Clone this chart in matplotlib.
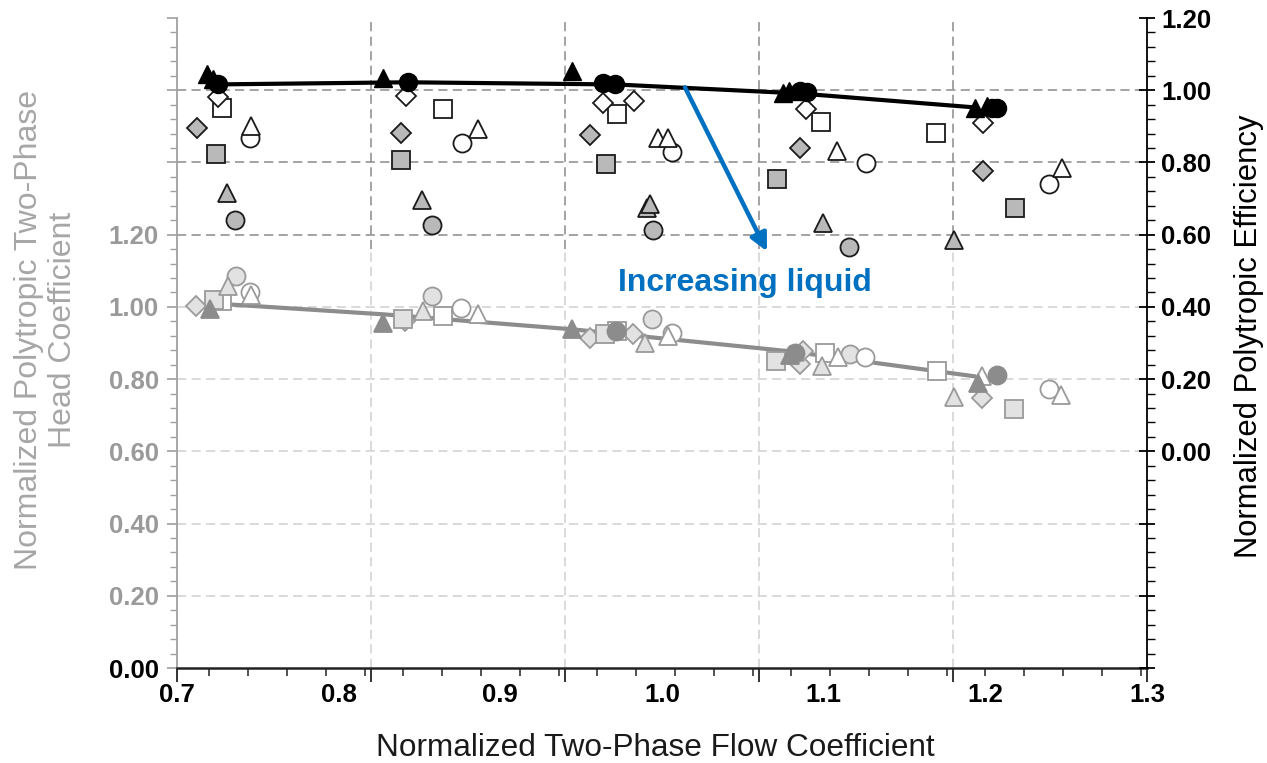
import matplotlib
matplotlib.use('Agg')
import matplotlib.pyplot as plt
from matplotlib.ticker import FixedLocator, MultipleLocator, FuncFormatter
import numpy as np

plt.rcParams['font.family'] = ['Liberation Sans', 'DejaVu Sans']

# ---------------- data ----------------
x_tick_labels = [0.7, 0.8, 0.9, 1.0, 1.1, 1.2, 1.3]
x_grid_ticks = [0.7, 0.82, 0.94, 1.06, 1.18, 1.3]
head_labels = [0.0, 0.2, 0.4, 0.6, 0.8, 1.0, 1.2]
eff_labels = [0.0, 0.2, 0.4, 0.6, 0.8, 1.0, 1.2]

# efficiency (right axis)
eff_line_x = [0.7223, 0.8429, 0.9715, 1.0853, 1.1947]
eff_line_y = [1.016, 1.022, 1.016, 0.991, 0.952]
eff_dry_tri_x = [0.7186, 0.7223, 0.8274, 0.9443, 1.0748, 1.0785, 1.1935, 1.2009]
eff_dry_tri_y = [1.044, 1.030, 1.033, 1.052, 0.991, 0.999, 0.950, 0.955]
eff_dry_circ_x = [0.7254, 0.8429, 0.9635, 0.9709, 1.0853, 1.0896, 1.2040, 1.2071]
eff_dry_circ_y = [1.016, 1.022, 1.019, 1.016, 0.997, 0.994, 0.952, 0.952]
eff_odia_x = [0.7254, 0.8416, 0.9635, 0.9826, 1.0890, 1.1984]
eff_odia_y = [0.980, 0.983, 0.966, 0.969, 0.947, 0.910]
eff_osq_x = [0.7278, 0.8645, 0.9721, 1.0982, 1.1694]
eff_osq_y = [0.952, 0.949, 0.935, 0.913, 0.882]
eff_gdia_x = [0.7124, 0.8385, 0.9554, 1.0853, 1.1984]
eff_gdia_y = [0.896, 0.882, 0.877, 0.841, 0.777]
eff_otri_x = [0.7457, 0.8861, 0.9975, 1.0037, 1.1082, 1.2473]
eff_otri_y = [0.902, 0.894, 0.869, 0.869, 0.832, 0.785]
eff_ocirc_x = [0.7451, 0.8762, 1.0061, 1.1261, 1.2393]
eff_ocirc_y = [0.869, 0.855, 0.830, 0.799, 0.740]
eff_gsq_x = [0.7241, 0.8385, 0.9653, 1.0710, 1.2182]
eff_gsq_y = [0.824, 0.807, 0.796, 0.754, 0.674]
eff_gtri_x = [0.7309, 0.8515, 0.9907, 0.9925, 1.0995, 1.1805]
eff_gtri_y = [0.715, 0.696, 0.674, 0.685, 0.632, 0.584]
eff_gcirc_x = [0.7359, 0.8577, 0.9944, 1.1156]
eff_gcirc_y = [0.640, 0.626, 0.612, 0.565]

# head coefficient (left axis)
head_line_x = [0.7223, 0.8280, 0.9443, 1.0791, 1.1929]
head_line_y = [1.0097, 0.9793, 0.938, 0.877, 0.808]
head_dry_tri_x = [0.7204, 0.8274, 0.9443, 1.0791, 1.1954]
head_dry_tri_y = [0.993, 0.9545, 0.938, 0.866, 0.789]
head_dry_circ_x = [0.9715, 1.0822, 1.2071]
head_dry_circ_y = [0.932, 0.872, 0.811]
head_dia_x = [0.7118, 0.8410, 0.9554, 0.9820, 1.0853, 1.0871, 1.1978]
head_dia_y = [1.0014, 0.962, 0.9131, 0.9241, 0.8414, 0.8772, 0.7476]
head_sq_x = [0.7229, 0.8398, 0.9647, 1.0704, 1.2176]
head_sq_y = [1.0179, 0.9655, 0.9241, 0.8497, 0.7172]
head_tri_x = [0.7315, 0.8521, 0.9894, 1.0989, 1.1805]
head_tri_y = [1.0566, 0.9876, 0.8993, 0.8359, 0.7503]
head_circ_x = [0.7365, 0.8577, 0.9938, 1.1162]
head_circ_y = [1.0869, 1.0290, 0.9655, 0.869]
head_osq_x = [0.7278, 0.8645, 0.9721, 1.1007, 1.1700]
head_osq_y = [1.015, 0.9738, 0.9324, 0.8717, 0.8221]
head_otri_x = [0.7457, 0.8861, 1.0037, 1.1088, 1.1978, 1.2467]
head_otri_y = [1.0317, 0.9793, 0.9186, 0.8607, 0.8083, 0.7559]
head_ocirc_x = [0.7451, 0.8756, 1.0061, 1.1255, 1.2393]
head_ocirc_y = [1.0400, 0.9959, 0.9269, 0.8607, 0.7724]

# annotation
arrow_start = (1.0142, 1.008)   # (x, efficiency)
arrow_end = (1.0649, 0.554)
label_pos = (1.0513, 1.065)     # (x, head)

# ---------------- figure ----------------
fig = plt.figure(figsize=(12.67, 7.63), dpi=100)
ax = fig.add_axes([0.1397, 0.1245, 0.7656, 0.8519])
ax2 = ax.twinx()

ax.set_xlim(0.7, 1.3)
ax.set_ylim(0.0, 1.8)
ax2.set_ylim(-0.6, 1.2)

DARK_GRID = '#8a8a8a'
LIGHT_GRID = '#cfcfcf'
split = 1.16  # head units where the darker grid region begins
gkw = dict(linestyle=(0, (6, 3.5)), linewidth=1.1, zorder=0)
for yv in np.arange(0.2, 1.01, 0.2):
    ax.hlines(yv, 0.7, 1.3, color=LIGHT_GRID, **gkw)
for yv in [1.2, 1.4, 1.6]:
    ax.hlines(yv, 0.7, 1.3, color=DARK_GRID, **gkw)
for xv in x_grid_ticks[1:-1]:
    ax.vlines(xv, 0.0, split, color=LIGHT_GRID, **gkw)
    ax.vlines(xv, split, 1.8, color=DARK_GRID, **gkw)

# head series
HL = '#9a9a9a'
HF = '#e2e2e2'
HD = '#8c8c8c'
ax.plot(head_line_x, head_line_y, color=HD, lw=3.0, zorder=3)
mk = dict(linestyle='none', markeredgewidth=1.3, zorder=4)
ax.plot(head_dia_x, head_dia_y, marker='D', ms=10.5, mfc=HF, mec=HL, **mk)
ax.plot(head_osq_x, head_osq_y, marker='s', ms=12.5, mfc='white', mec=HL, **mk)
ax.plot(head_sq_x, head_sq_y, marker='s', ms=12.5, mfc=HF, mec=HL, **mk)
ax.plot(head_circ_x, head_circ_y, marker='o', ms=13, mfc=HF, mec=HL, **mk)
ax.plot(head_tri_x, head_tri_y, marker='^', ms=13, mfc=HF, mec=HL, **mk)
ax.plot(head_ocirc_x, head_ocirc_y, marker='o', ms=13, mfc='white', mec=HL, **mk)
ax.plot(head_otri_x, head_otri_y, marker='^', ms=13, mfc='white', mec=HL, **mk)
ax.plot(head_dry_circ_x, head_dry_circ_y, marker='o', ms=13, mfc=HD, mec=HD, **mk)
ax.plot(head_dry_tri_x, head_dry_tri_y, marker='^', ms=13, mfc=HD, mec=HD, **mk)

# efficiency series
EG = '#b9b9b9'
EK = '#1a1a1a'
ax2.plot(eff_gcirc_x, eff_gcirc_y, marker='o', ms=13, mfc=EG, mec=EK, **mk)
ax2.plot(eff_gtri_x, eff_gtri_y, marker='^', ms=13, mfc=EG, mec=EK, **mk)
ax2.plot(eff_gsq_x, eff_gsq_y, marker='s', ms=12.5, mfc=EG, mec=EK, **mk)
ax2.plot(eff_ocirc_x, eff_ocirc_y, marker='o', ms=13, mfc='white', mec=EK, **mk)
ax2.plot(eff_otri_x, eff_otri_y, marker='^', ms=13, mfc='white', mec=EK, **mk)
ax2.plot(eff_gdia_x, eff_gdia_y, marker='D', ms=10.5, mfc=EG, mec=EK, **mk)
ax2.plot(eff_osq_x, eff_osq_y, marker='s', ms=12.5, mfc='white', mec=EK, **mk)
ax2.plot(eff_odia_x, eff_odia_y, marker='D', ms=10.5, mfc='white', mec=EK, **mk)
ax2.plot(eff_line_x, eff_line_y, color='black', lw=3.0, zorder=5)
ax2.plot(eff_dry_tri_x, eff_dry_tri_y, marker='^', ms=13, mfc='black', mec='black', linestyle='none', zorder=6)
ax2.plot(eff_dry_circ_x, eff_dry_circ_y, marker='o', ms=13, mfc='black', mec='black', linestyle='none', zorder=6)

# annotation
ax2.annotate('', xy=arrow_end, xytext=arrow_start,
             arrowprops=dict(arrowstyle='-|>', color='#0070C0', lw=3.2,
                             mutation_scale=26, shrinkA=0, shrinkB=0), zorder=7)
ax.text(label_pos[0], label_pos[1], 'Increasing liquid', color='#0070C0',
        fontsize=23, fontweight='bold', ha='center', va='center', zorder=7)

# ---------------- axes styling ----------------
for sp in ['top']:
    ax.spines[sp].set_visible(False)
    ax2.spines[sp].set_visible(False)
ax.spines['left'].set_color('#a0a0a0')
ax.spines['left'].set_linewidth(1.3)
ax2.spines['left'].set_visible(False)
ax2.spines['right'].set_color('black')
ax2.spines['right'].set_linewidth(1.3)
ax.spines['right'].set_visible(False)
ax.spines['bottom'].set_color('#222222')
ax.spines['bottom'].set_linewidth(1.8)
ax2.spines['bottom'].set_visible(False)

# x axis: tick marks at grid positions, labels via secondary axis
ax.xaxis.set_major_locator(FixedLocator(x_grid_ticks))
ax.xaxis.set_minor_locator(MultipleLocator(0.024))
ax.tick_params(axis='x', which='major', direction='out', length=10, width=1.3,
               color='#222222', labelbottom=False)
ax.tick_params(axis='x', which='minor', direction='out', length=6, width=1.1,
               color='#222222')
sec = ax.secondary_xaxis('bottom')
sec.set_xticks(x_tick_labels)
sec.set_xticklabels([f'{v:.1f}' for v in x_tick_labels])
sec.tick_params(length=0, pad=11, labelsize=18.5)
for lab in sec.get_xticklabels():
    lab.set_fontweight('bold')
sec.spines['bottom'].set_visible(False)
ax.set_xlabel('Normalized Two-Phase Flow Coefficient', fontsize=22.7, color='#1a1a1a')
ax.xaxis.set_label_coords(0.493, -0.123)
ax.xaxis.label.set_va('center')

# left axis
ax.yaxis.set_major_locator(MultipleLocator(0.2))
ax.yaxis.set_minor_locator(MultipleLocator(0.04))
ax.yaxis.set_major_formatter(FuncFormatter(
    lambda v, p: f'{v:.2f}' if any(abs(v - h) < 1e-6 for h in head_labels) else ''))
ax.tick_params(axis='y', which='major', direction='out', length=7, width=1.2,
               color='#a0a0a0', labelcolor='#9a9a9a', labelsize=18.5, pad=6)
ax.tick_params(axis='y', which='minor', direction='out', length=5, width=1.0,
               color='#a0a0a0')
fig.canvas.draw()
for lab in ax.get_yticklabels():
    lab.set_fontweight('bold')
    if lab.get_text() == '0.00':
        lab.set_color('black')
ax.text(-0.135, 0.52, 'Normalized Polytropic Two-Phase\nHead Coefficient',
        transform=ax.transAxes, rotation=90, ha='center', va='center',
        fontsize=23, color='#a6a6a6', linespacing=1.15)

# right axis
ax2.yaxis.set_major_locator(MultipleLocator(0.2))
ax2.yaxis.set_minor_locator(MultipleLocator(0.04))
ax2.yaxis.set_major_formatter(FuncFormatter(
    lambda v, p: f'{v:.2f}' if any(abs(v - h) < 1e-6 for h in eff_labels) else ''))
ax2.tick_params(axis='y', which='major', direction='inout', length=12, width=1.3,
                color='black', labelcolor='black', labelsize=18.5, pad=4)
ax2.tick_params(axis='y', which='minor', direction='out', length=6, width=1.0,
                color='black')
for lab in ax2.get_yticklabels():
    lab.set_fontweight('bold')
ax2.set_ylabel('Normalized Polytropic Efficiency', fontsize=22.3, color='black')
ax2.yaxis.set_label_coords(1.105, 0.51)
ax2.yaxis.label.set_va('center')
ax2.yaxis.label.set_ha('center')

fig.savefig('out.png', dpi=100)
